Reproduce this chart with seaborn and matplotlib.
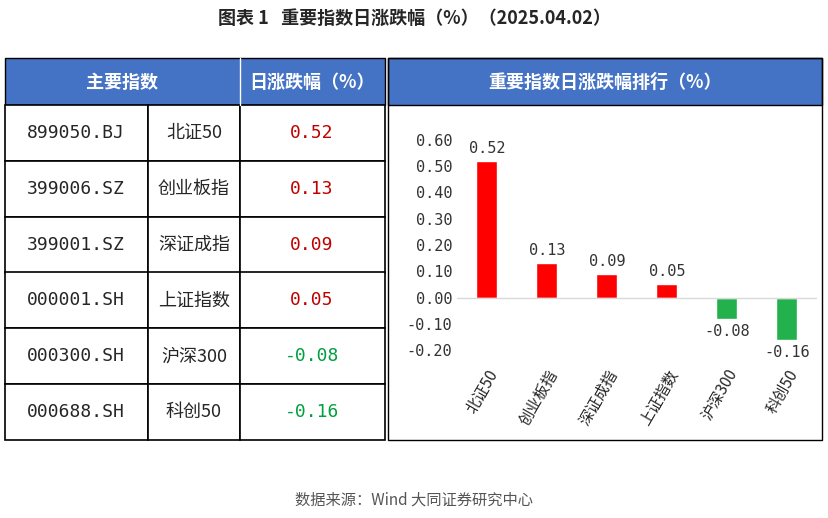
import matplotlib.pyplot as plt
import seaborn as sns
import pandas as pd
from matplotlib.patches import Rectangle

sns.set_style("white")
plt.rcParams['font.family'] = ['Noto Sans CJK SC', 'DejaVu Sans']

codes = ["899050.BJ", "399006.SZ", "399001.SZ", "000001.SH", "000300.SH", "000688.SH"]
names = ["北证50", "创业板指", "深证成指", "上证指数", "沪深300", "科创50"]
changes = [0.52, 0.13, 0.09, 0.05, -0.08, -0.16]

W, H = 829, 518
fig = plt.figure(figsize=(W / 100, H / 100), dpi=100)

def fx(x): return x / W
def fy(y): return 1 - y / H

blue = "#4472C4"
fig.text(0.5, fy(18), "图表 1   重要指数日涨跌幅（%）（2025.04.02）", ha="center", va="center",
         fontsize=13, fontweight="bold")

# header bars
fig.patches.append(Rectangle((fx(5), fy(105)), fx(380), 47 / H, transform=fig.transFigure,
                             facecolor=blue, edgecolor="black", lw=1))
fig.patches.append(Rectangle((fx(388), fy(105)), fx(434), 47 / H, transform=fig.transFigure,
                             facecolor=blue, edgecolor="black", lw=1))
fig.patches.append(Rectangle((fx(388), fy(440)), fx(434), 382 / H, transform=fig.transFigure,
                             facecolor="none", edgecolor="black", lw=1))
fig.lines.append(plt.Line2D([fx(240)] * 2, [fy(58), fy(105)], transform=fig.transFigure, color="white", lw=1))
fig.text(fx(122), fy(82), "主要指数", ha="center", va="center", color="white", fontsize=13, fontweight="bold")
fig.text(fx(312), fy(82), "日涨跌幅（%）", ha="center", va="center", color="white", fontsize=13, fontweight="bold")
fig.text(fx(605), fy(82), "重要指数日涨跌幅排行（%）", ha="center", va="center", color="white", fontsize=13, fontweight="bold")

row_h = (440 - 105) / 6
for i, (c, n, v) in enumerate(zip(codes, names, changes)):
    top = 105 + i * row_h
    for x0, x1 in [(5, 148), (148, 240), (240, 385)]:
        fig.patches.append(Rectangle((fx(x0), fy(top + row_h)), fx(x1 - x0), row_h / H,
                                     transform=fig.transFigure, facecolor="white", edgecolor="black", lw=1.2))
    cy = fy(top + row_h / 2)
    fig.text(fx(76), cy, c, ha="center", va="center", fontsize=13, family="DejaVu Sans Mono")
    fig.text(fx(194), cy, n, ha="center", va="center", fontsize=13)
    fig.text(fx(312), cy, f"{v:.2f}", ha="center", va="center", fontsize=13, family="DejaVu Sans Mono",
             color="#C00000" if v > 0 else "#00A040")

fig.text(0.5, fy(500), "数据来源：Wind 大同证券研究中心", ha="center", va="center", fontsize=11, color="#555555")

# bar chart
ax = fig.add_axes([fx(457), fy(350), fx(360), 210 / H])
df = pd.DataFrame({"name": names, "chg": changes, "sign": ["up" if v > 0 else "down" for v in changes]})
sns.barplot(data=df, x="name", y="chg", hue="sign", palette={"up": "#FF0000", "down": "#22B14C"},
            dodge=False, width=0.35, saturation=1, legend=False, ax=ax)
ax.set_ylim(-0.2, 0.6)
ax.set_yticks([-0.2, -0.1, 0, 0.1, 0.2, 0.3, 0.4, 0.5, 0.6])
ax.set_yticklabels([f"{t:.2f}" for t in ax.get_yticks()], family="DejaVu Sans Mono", fontsize=11, color="#333333")
ax.axhline(0, color="#D9D9D9", lw=1)
for s in ax.spines.values():
    s.set_visible(False)
ax.set_xlabel("")
ax.set_ylabel("")
ax.tick_params(axis="x", length=0, pad=12)
ax.tick_params(axis="y", length=0)
ax.set_xticks(range(len(names)))
ax.set_xticklabels(names, rotation=60, ha="right", va="top", fontsize=11, rotation_mode="anchor")
for i, v in enumerate(changes):
    ax.text(i, v + (0.02 if v > 0 else -0.02), f"{v:.2f}", ha="center", va="bottom" if v > 0 else "top",
            fontsize=11, family="DejaVu Sans Mono", color="#333333", clip_on=False)

fig.savefig("out.png", dpi=100)
